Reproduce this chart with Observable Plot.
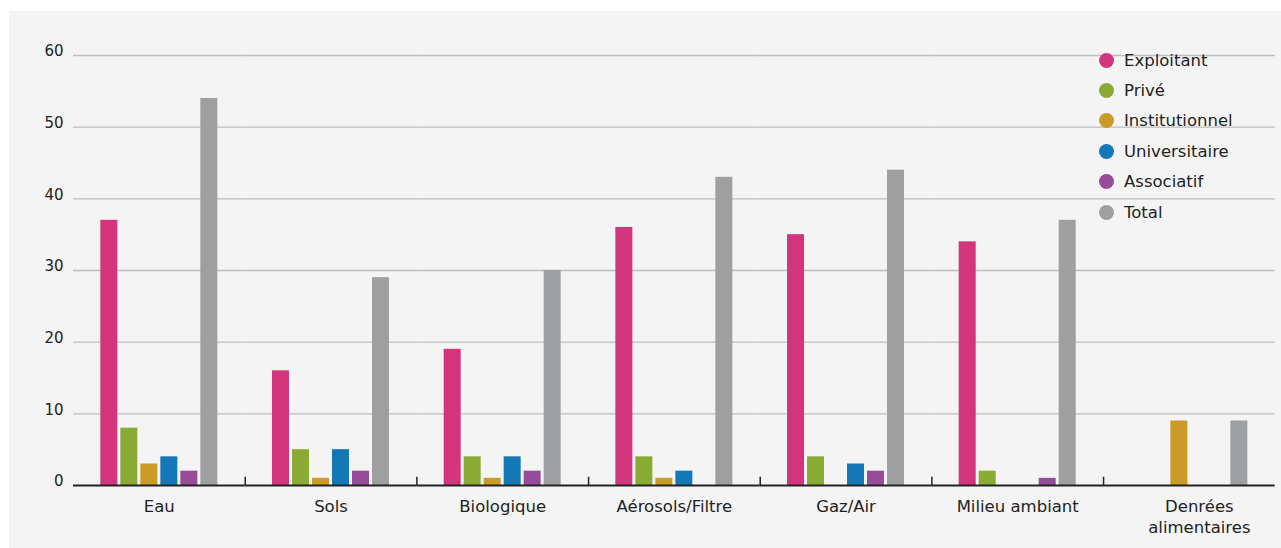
<!DOCTYPE html>
<html>
<head>
<meta charset="utf-8">
<script src="https://cdn.jsdelivr.net/npm/d3@7"></script>
<script src="https://cdn.jsdelivr.net/npm/@observablehq/plot@0.6"></script>
<style>
  html, body { margin: 0; padding: 0; background: #ffffff; }
  #wrap { position: relative; width: 1281px; height: 548px; overflow: hidden; }
  #panel { position: absolute; left: 9px; top: 11px; right: 0; bottom: 0; background: #f4f4f4; }
  #chart { position: absolute; left: 0; top: 0; }
  #legend { position: absolute; left: 1099px; top: 45px; font-family: "DejaVu Sans", sans-serif; font-size: 16.5px; color: #222; }
  #legend .row { height: 30.4px; display: flex; align-items: center; }
  #legend .sw { width: 15px; height: 15px; border-radius: 50%; margin-right: 10px; }
</style>
</head>
<body>
<div id="wrap">
  <div id="panel"></div>
  <div id="chart"></div>
  <div id="legend"></div>
</div>
<script>
const categories = ["Eau", "Sols", "Biologique", "Aérosols/Filtre", "Gaz/Air", "Milieu ambiant", "Denrées alimentaires"];
const series = ["Exploitant", "Privé", "Institutionnel", "Universitaire", "Associatif", "Total"];
const colors = ["#d3357d", "#8aab33", "#cc9a26", "#1477b6", "#964c99", "#9e9fa1"];
const exploitant    = [37, 16, 19, 36, 35, 34, 0];
const prive         = [8, 5, 4, 4, 4, 2, 0];
const institutionnel= [3, 1, 1, 1, 0, 0, 9];
const universitaire = [4, 5, 4, 2, 3, 0, 0];
const associatif    = [2, 2, 2, 0, 2, 1, 0];
const total         = [54, 29, 30, 43, 44, 37, 9];
const yTicks = [0, 10, 20, 30, 40, 50, 60];

const valuesBySeries = [exploitant, prive, institutionnel, universitaire, associatif, total];
const rows = [];
categories.forEach((c, i) => {
  series.forEach((s, j) => {
    rows.push({category: c, series: s, value: valuesBySeries[j][i]});
  });
});

const font = "DejaVu Sans, sans-serif";
const catLabelOpts = {
  fx: d => d,
  text: d => d === "Denrées alimentaires" ? "Denrées\nalimentaires" : d,
  frameAnchor: "bottom", lineAnchor: "top", dy: 11,
  fontSize: 16.5, lineHeight: 1.3, fill: "#222"
};

const plot = Plot.plot({
  width: 1281,
  height: 548,
  marginLeft: 73,
  marginRight: 6.3,
  marginTop: 55,
  marginBottom: 63,
  style: {background: "transparent", fontFamily: font, color: "#222"},
  fx: {domain: categories, padding: 0, round: false, label: null, axis: null},
  x: {domain: series, paddingInner: 0.15, paddingOuter: 1.367, round: false, axis: null},
  y: {domain: [0, 60], ticks: yTicks, label: null},
  color: {domain: series, range: colors},
  marks: [
    Plot.gridY(yTicks.filter(t => t > 0), {stroke: "#bdbdbd", strokeOpacity: 1, strokeWidth: 1.3}),
    Plot.axisY(yTicks, {anchor: "left", tickSize: 0, tickPadding: 10, dy: -4, fontSize: 15, fill: "#222"}),
    Plot.text(categories.slice(0, 6), catLabelOpts),
    Plot.text(categories.slice(6), {...catLabelOpts, dx: 10}),
    Plot.barY(rows.filter(d => d.value > 0), {fx: "category", x: "series", y: "value", fill: "series"}),
    Plot.ruleY([0], {stroke: "#222", strokeWidth: 2}),
    Plot.ruleX(categories.slice(1), {fx: d => d, x: () => series[0], y1: 0, y2: 1.15, dx: -35.8, stroke: "#222", strokeWidth: 1.5})
  ]
});
document.getElementById("chart").appendChild(plot);

const legend = document.getElementById("legend");
series.forEach((s, i) => {
  const row = document.createElement("div");
  row.className = "row";
  const sw = document.createElement("div");
  sw.className = "sw";
  sw.style.background = colors[i];
  const t = document.createElement("span");
  t.textContent = s;
  row.appendChild(sw);
  row.appendChild(t);
  legend.appendChild(row);
});
</script>
</body>
</html>
